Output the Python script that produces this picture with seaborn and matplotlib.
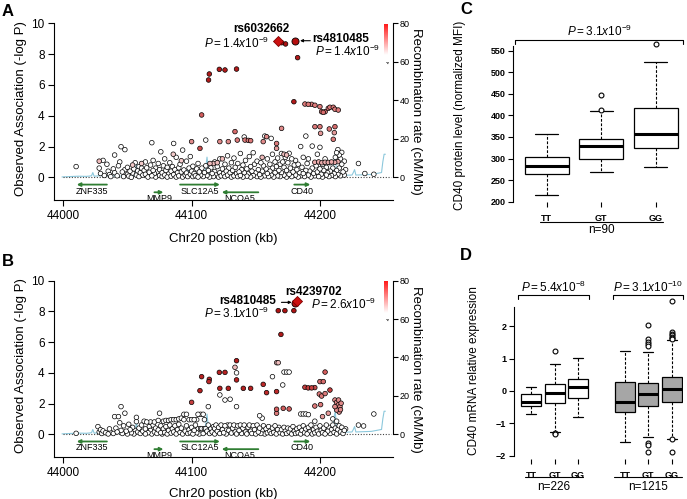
import matplotlib
matplotlib.use("Agg")
import matplotlib.pyplot as plt
from matplotlib.colors import LinearSegmentedColormap
import numpy as np
import pandas as pd
import seaborn as sns

sns.set_theme(style="ticks", rc={
    "axes.linewidth": 0.8, "xtick.major.width": 0.8, "ytick.major.width": 0.8,
    "axes.edgecolor": "black", "text.color": "black", "axes.labelcolor": "black",
    "xtick.color": "black", "ytick.color": "black",
})
plt.rcParams["font.family"] = ["Liberation Sans", "DejaVu Sans"]
plt.rcParams["mathtext.fontset"] = "custom"
plt.rcParams["mathtext.it"] = "Liberation Sans:italic"
plt.rcParams["mathtext.rm"] = "Liberation Sans"
plt.rcParams["mathtext.default"] = "it"

# ---------------- data: panel A (kb, -log P) ----------------
A_WHITE = [
    (44010, 0.70), (44028, 0.60), (44029, 0.25), (44031, 1.10), (44032, 0.12), (44034, 0.85), (44035, 0.40),
    (44036, 0.18), (44037, 0.05), (44039, 0.55), (44040, 1.45), (44040, 0.30), (44042, 0.10), (44043, 0.75),
    (44044, 1.00), (44045, 1.99), (44046, 0.35), (44047, 0.05), (44048, 1.80), (44048, 0.50), (44050, 0.20),
    (44050, 0.65), (44051, 0.08), (44052, 0.40), (44053, 0.00), (44054, 0.28), (44055, 0.55), (44056, 0.95),
    (44057, 0.15), (44058, 0.42), (44059, 0.70), (44059, 0.05), (44060, 0.30),
    (44061, 0.60), (44062, 0.15), (44063, 0.45), (44064, 1.00), (44064, 0.20), (44065, 0.62), (44066, 0.02),
    (44067, 0.33), (44068, 0.80), (44069, 2.25), (44069, 0.10), (44070, 0.45), (44070, 1.10), (44071, 0.25),
    (44072, 0.60), (44072, 0.02), (44073, 0.35), (44074, 0.90), (44075, 0.12), (44075, 0.50), (44076, 1.66),
    (44077, 0.05), (44077, 0.30), (44078, 0.75), (44079, 1.20), (44079, 0.15), (44080, 0.45), (44081, 0.02),
    (44081, 0.65), (44082, 0.25), (44083, 0.95), (44084, 0.08), (44084, 0.40), (44085, 0.70), (44086, 2.20),
    (44086, 0.18), (44087, 0.50), (44088, 0.02), (44088, 1.30), (44089, 0.30), (44090, 0.62), (44090, 0.10),
    (44091, 0.85), (44092, 0.35), (44093, 1.77), (44093, 0.02), (44094, 0.48), (44095, 0.15), (44096, 1.05),
    (44096, 0.28), (44097, 0.05), (44098, 0.60), (44099, 0.20), (44099, 1.35),
    (44100, 0.40), (44101, 0.05), (44101, 0.72), (44102, 0.25), (44103, 0.10), (44104, 0.55), (44105, 0.02),
    (44105, 0.90), (44106, 0.35), (44107, 0.15), (44108, 0.60), (44109, 0.05), (44110, 0.30), (44111, 2.42),
    (44111, 0.75), (44112, 0.12), (44113, 0.45), (44114, 0.02), (44115, 0.62), (44116, 0.25), (44117, 0.05),
    (44118, 1.00), (44118, 0.38), (44119, 0.15), (44120, 0.70), (44121, 0.02), (44122, 0.30), (44122, 1.20),
    (44123, 0.10), (44124, 0.55), (44125, 0.25), (44126, 0.85), (44126, 0.05), (44127, 0.40), (44128, 1.40),
    (44128, 0.15), (44129, 0.60), (44130, 0.30), (44131, 0.02), (44131, 0.95), (44132, 0.45), (44133, 1.25),
    (44133, 0.10), (44134, 0.65), (44135, 0.25), (44136, 0.05), (44136, 0.90), (44137, 0.35), (44138, 1.55),
    (44138, 0.12), (44139, 0.50), (44140, 0.02), (44140, 0.80),
    (44141, 2.62), (44141, 0.30), (44142, 1.10), (44143, 0.08), (44143, 0.55), (44144, 0.22), (44145, 1.35),
    (44146, 0.02), (44146, 0.70), (44147, 0.40), (44148, 1.60), (44148, 0.12), (44149, 0.85), (44150, 0.30),
    (44151, 0.05), (44151, 1.05), (44152, 0.50), (44153, 0.18), (44154, 0.95), (44154, 0.02), (44155, 0.40),
    (44156, 0.75), (44157, 2.68), (44157, 0.10), (44158, 0.55), (44159, 1.20), (44159, 0.25), (44160, 0.05),
    (44161, 0.85), (44161, 0.40), (44162, 2.53), (44162, 0.15), (44163, 1.50), (44163, 0.60), (44164, 0.02),
    (44165, 1.00), (44165, 0.30), (44166, 0.70), (44167, 0.10), (44167, 1.25), (44168, 0.45), (44169, 0.85),
    (44169, 0.05), (44170, 1.55), (44170, 0.30), (44171, 1.00), (44172, 0.15), (44172, 0.65), (44173, 1.30),
    (44174, 0.02), (44174, 0.45), (44175, 0.95), (44176, 1.56), (44176, 0.20), (44177, 0.60), (44178, 1.20),
    (44178, 0.05), (44179, 0.35), (44180, 0.80),
    (44181, 1.10), (44181, 0.15), (44182, 0.50), (44183, 0.02), (44183, 0.85), (44184, 0.30), (44185, 2.00),
    (44185, 0.10), (44186, 0.65), (44187, 1.30), (44187, 0.25), (44188, 0.05), (44189, 2.68), (44189, 0.45),
    (44190, 0.90), (44191, 0.15), (44191, 1.20), (44192, 0.40), (44193, 0.02), (44194, 2.03), (44194, 0.60),
    (44195, 0.25), (44196, 0.10), (44197, 0.75), (44198, 1.50), (44198, 0.35), (44199, 0.05), (44200, 1.95),
    (44200, 0.55), (44201, 0.20), (44202, 0.85), (44202, 0.02), (44203, 0.45), (44204, 1.20), (44205, 0.15),
    (44205, 0.65), (44206, 0.30), (44207, 0.05), (44208, 0.95), (44208, 0.40), (44209, 0.12), (44210, 0.60),
    (44211, 0.25), (44212, 1.30), (44212, 0.05), (44213, 0.45), (44213, 1.60), (44214, 0.20), (44214, 1.80),
    (44215, 1.45), (44215, 0.60), (44216, 1.20), (44216, 0.10), (44217, 0.85), (44217, 1.62), (44218, 0.35),
    (44219, 1.05), (44219, 0.15), (44220, 0.50), (44230, 0.90), (44235, 0.25), (44242, 0.20),
]
# (kb, -log P, r2)
A_LD = [
    (44170.1, 8.74, 0.95), (44173.2, 8.66, 0.95), (44182.6, 7.77, 0.9),
    (44113.8, 6.71, 0.9), (44113.2, 6.32, 0.9), (44121.6, 7.01, 0.9), (44126.0, 6.97, 0.9), (44135.0, 7.03, 0.9),
    (44107.8, 4.05, 0.6), (44179.7, 4.91, 0.9),
    (44188.3, 4.76, 0.5), (44190.9, 4.74, 0.5), (44193.5, 4.74, 0.5), (44196.1, 4.68, 0.5), (44200.0, 4.59, 0.5),
    (44201.3, 4.26, 0.55), (44202.6, 4.22, 0.55), (44204.0, 4.26, 0.5), (44206.5, 4.48, 0.5), (44207.8, 4.55, 0.5),
    (44210.4, 4.55, 0.5), (44211.7, 4.42, 0.5), (44214.3, 4.37, 0.5),
    (44196.1, 3.29, 0.5), (44200.0, 3.29, 0.5), (44207.3, 3.14, 0.5), (44211.7, 3.29, 0.55), (44200.5, 2.86, 0.4),
    (44211.2, 2.90, 0.4), (44210.4, 2.47, 0.5),
    (44196.0, 0.98, 0.35), (44199.0, 1.00, 0.35), (44201.5, 0.95, 0.35), (44204.0, 0.98, 0.35),
    (44206.5, 0.97, 0.35), (44209.0, 1.00, 0.35), (44211.5, 0.97, 0.35), (44214.0, 1.02, 0.35),
    (44106.5, 1.88, 0.65), (44100.0, 2.32, 0.45), (44122.0, 2.32, 0.45), (44128.6, 2.32, 0.45), (44133.8, 2.97, 0.55),
    (44135.6, 2.42, 0.5), (44141.6, 2.42, 0.5), (44144.2, 2.40, 0.5), (44146.0, 2.38, 0.5), (44155.8, 2.32, 0.45),
    (44158.4, 2.64, 0.45), (44170.1, 3.18, 0.45), (44166.2, 2.20, 0.5), (44166.2, 1.88, 0.4),
    (44028.0, 1.05, 0.3), (44054.0, 0.80, 0.25), (44061.0, 0.90, 0.25), (44085.7, 1.50, 0.25), (44092.0, 1.08, 0.25),
    (44114.3, 0.90, 0.3), (44117.0, 0.90, 0.3), (44120.0, 0.95, 0.3), (44124.0, 1.20, 0.3), (44155.0, 1.30, 0.3),
    (44172.0, 1.50, 0.3), (44174.0, 1.45, 0.3),
]
A_DIAMOND = (44167.5, 8.87)   # rs6032662
A_BIG = (44180.5, 8.87)       # rs4810485

# ---------------- data: panel B ----------------
B_WHITE = [
    (44010, 0.06), (44027, 0.50), (44028, 0.15), (44029, 0.30), (44030, 0.05), (44031, 0.22), (44033, 0.10),
    (44035, 0.02), (44036, 0.35), (44037, 0.12), (44039, 0.05), (44040, 1.15), (44041, 0.40), (44042, 0.15),
    (44043, 1.15), (44044, 0.75), (44045, 0.25), (44045, 1.80), (44046, 0.05), (44047, 0.55), (44048, 1.37),
    (44049, 0.20), (44050, 0.02), (44051, 0.65), (44052, 0.30), (44053, 0.10), (44054, 0.45), (44055, 0.02),
    (44056, 0.25), (44057, 1.10), (44057, 0.82), (44058, 0.15), (44059, 0.40), (44060, 0.05), (44061, 0.60),
    (44062, 0.20), (44063, 0.85), (44064, 0.02), (44064, 0.35), (44065, 0.80), (44066, 0.10), (44067, 0.50),
    (44068, 0.80), (44068, 0.25), (44069, 0.02), (44070, 0.60), (44071, 0.80), (44071, 0.15), (44072, 0.40),
    (44073, 0.05), (44074, 0.90), (44074, 0.28), (44075, 1.37), (44076, 0.10), (44076, 0.55), (44077, 0.02),
    (44078, 0.85), (44078, 0.35), (44079, 0.12), (44080, 0.90), (44080, 0.50), (44081, 0.02), (44082, 0.90),
    (44082, 0.25), (44083, 0.60), (44084, 0.95), (44084, 0.08), (44085, 0.35), (44086, 0.95), (44086, 0.15),
    (44087, 0.55), (44088, 0.95), (44088, 0.02), (44089, 0.30), (44090, 1.00), (44090, 0.65), (44091, 0.12),
    (44092, 1.05), (44092, 0.40), (44093, 0.02), (44094, 1.30), (44094, 0.95), (44095, 0.20), (44096, 1.30),
    (44096, 0.55), (44097, 0.05), (44098, 0.95), (44098, 0.30), (44099, 0.10), (44100, 0.95), (44100, 0.45),
    (44101, 0.02), (44102, 0.95), (44102, 0.25), (44103, 0.60), (44104, 0.95), (44104, 0.10), (44105, 1.30),
    (44105, 0.35), (44106, 0.02), (44107, 1.30), (44107, 0.37), (44108, 0.37), (44109, 1.30), (44109, 0.05),
    (44110, 0.37), (44110, 0.95), (44111, 0.37), (44112, 0.20), (44113, 1.80), (44113, 0.60), (44114, 0.05),
    (44115, 0.37), (44116, 0.15), (44117, 0.50), (44118, 0.02), (44118, 0.37), (44119, 0.60), (44120, 0.20),
    (44121, 0.45), (44122, 2.56), (44122, 0.05), (44123, 0.60), (44124, 0.30), (44125, 0.10), (44126, 2.23),
    (44126, 0.55), (44127, 0.02), (44128, 0.60), (44129, 0.25), (44130, 2.28), (44130, 0.60), (44131, 0.08),
    (44132, 0.40), (44133, 0.60), (44134, 0.15), (44135, 1.80), (44135, 4.00), (44135, 0.02), (44136, 0.55),
    (44137, 0.25), (44138, 0.60), (44139, 0.05), (44140, 0.40), (44141, 0.60), (44142, 0.15), (44143, 0.02),
    (44144, 0.45), (44145, 0.60), (44146, 0.20), (44147, 0.05), (44148, 0.55), (44149, 0.30), (44150, 0.02),
    (44151, 0.60), (44152, 0.15), (44153, 1.21), (44153, 0.40), (44154, 0.05), (44155, 1.05), (44155, 0.25),
    (44156, 0.55), (44157, 0.02), (44158, 0.35), (44159, 0.10), (44160, 0.50), (44161, 0.20), (44162, 0.05),
    (44163, 3.75), (44163, 0.40), (44164, 0.12), (44165, 0.55), (44166, 0.02), (44167, 0.30), (44168, 0.45),
    (44169, 0.10), (44170, 0.30), (44171, 3.21), (44171, 0.02), (44172, 4.05), (44172, 0.45), (44173, 0.20),
    (44174, 4.05), (44174, 0.05), (44176, 4.05), (44175, 0.40), (44176, 0.15), (44177, 0.35), (44178, 0.02),
    (44179, 0.50), (44180, 0.20), (44181, 0.05), (44182, 0.35), (44183, 0.10), (44184, 0.45), (44185, 1.32),
    (44185, 0.02), (44186, 0.25), (44187, 1.32), (44187, 0.55), (44188, 0.10), (44189, 1.32), (44189, 0.35),
    (44190, 0.02), (44191, 1.28), (44191, 0.45), (44192, 0.15), (44193, 0.60), (44194, 0.02), (44195, 0.30),
    (44196, 0.85), (44196, 0.10), (44197, 0.45), (44198, 0.20), (44199, 0.02), (44200, 0.55), (44201, 0.25),
    (44202, 0.10), (44203, 0.40), (44204, 0.02), (44205, 0.60), (44206, 0.20), (44207, 0.45), (44208, 0.05),
    (44209, 0.30), (44210, 1.00), (44210, 0.60), (44211, 0.12), (44212, 0.40), (44213, 0.85), (44213, 0.02),
    (44214, 0.30), (44215, 0.55), (44216, 0.15), (44217, 0.45), (44218, 0.05), (44219, 0.25), (44220, 0.35),
    (44230, 0.60), (44234, 0.54), (44242, 1.32),
]
B_LD = [
    (44167.5, 8.05, 0.95), (44172.7, 8.05, 0.95), (44179.7, 8.05, 0.95), (44169.6, 6.50, 0.9),
    (44135.0, 4.79, 0.9), (44107.8, 3.75, 0.85), (44113.8, 3.58, 0.8), (44113.5, 3.43, 0.8),
    (44121.6, 4.03, 0.85), (44126.0, 4.03, 0.85), (44106.5, 2.84, 0.85), (44122.0, 2.99, 0.85),
    (44128.6, 2.99, 0.85), (44135.0, 3.54, 0.85), (44140.3, 2.99, 0.85), (44146.0, 2.99, 0.85),
    (44155.8, 3.25, 0.8), (44158.4, 2.71, 0.8), (44166.2, 2.78, 0.8), (44100.0, 2.08, 0.7),
    (44166.3, 4.66, 0.3), (44167.5, 4.66, 0.3), (44133.8, 4.36, 0.3), (44166.2, 1.63, 0.6),
    (44166.2, 1.37, 0.5), (44171.4, 1.69, 0.6), (44176.0, 1.65, 0.6),
    (44188.3, 3.06, 0.7), (44190.9, 3.02, 0.7), (44193.5, 3.02, 0.7), (44196.0, 3.04, 0.65),
    (44199.5, 2.62, 0.5), (44201.3, 2.49, 0.5), (44204.0, 2.65, 0.5), (44204.0, 4.05, 0.6),
    (44200.0, 3.43, 0.55), (44202.6, 3.43, 0.55), (44207.8, 2.88, 0.7), (44196.0, 1.84, 0.5),
    (44200.5, 1.93, 0.5), (44202.0, 1.15, 0.4), (44206.5, 1.37, 0.4),
    (44211.7, 2.23, 0.45), (44213.0, 2.08, 0.45), (44214.3, 1.91, 0.45), (44215.6, 1.80, 0.45),
    (44213.0, 1.58, 0.45), (44215.0, 1.45, 0.45), (44216.5, 2.02, 0.45), (44211.7, 1.80, 0.45),
    (44214.5, 2.23, 0.45), (44216.0, 1.60, 0.45),
]
B_DIAMOND = (44182.5, 8.65)   # rs4239702
B_BIG = (44180.5, 8.55)       # rs4810485

# recombination rate (cM/Mb)
RECOMB_KB = [43999, 44005, 44012, 44018, 44022, 44023, 44024, 44030, 44040, 44050, 44056, 44057, 44058,
             44070, 44085, 44096, 44097, 44098, 44110, 44111, 44112, 44113, 44114, 44130, 44150, 44170,
             44190, 44205, 44210, 44211, 44212, 44213, 44215, 44225, 44226, 44227, 44228, 44240, 44248,
             44249, 44250, 44251]
RECOMB_RATE = [0.2, 0.4, 0.6, 0.5, 0.8, 2.5, 0.6, 0.9, 0.7, 0.6, 0.8, 7.0, 0.8,
               0.5, 0.6, 0.7, 5.0, 0.7, 1.0, 5.0, 10.5, 4.0, 1.0, 0.6, 0.5, 0.4,
               0.6, 0.8, 1.5, 9.0, 12.0, 1.5, 1.0, 1.2, 2.5, 4.0, 1.2, 1.5, 2.5,
               8.0, 12.0, 12.0]

# genes: name, start, end, row, direction
GENES = [("ZNF335", 44010.5, 44034, 0, -1), ("MMP9", 44071, 44078, 1, 1),
         ("SLC12A5", 44091, 44122, 0, 1), ("NCOA5", 44123.5, 44152, 1, -1),
         ("CD40", 44180, 44192.5, 0, 1)]

# ---------------- data: panel C ----------------
C_LABELS = ["TT", "GT", "GG"]
C_Q1 = [265, 300, 324]
C_MED = [282, 328, 357]
C_Q3 = [304, 345, 418]
C_LO = [215, 269, 280]
C_HI = [356, 410, 523]
C_FLIERS = [[], [412, 446], [565]]

# ---------------- data: panel D ----------------
D_LABELS = ["TT", "GT", "GG", "TT", "GT", "GG"]
D_Q1 = [-0.46, -0.38, -0.23, -0.64, -0.46, -0.33]
D_MED = [-0.35, -0.05, 0.12, -0.33, -0.10, 0.07]
D_Q3 = [-0.10, 0.23, 0.37, 0.27, 0.24, 0.44]
D_LO = [-0.72, -1.26, -0.81, -1.59, -1.41, -1.49]
D_HI = [0.13, 0.83, 1.01, 1.25, 1.22, 1.58]
D_FLIERS = [[], [1.24, -1.31, -1.34], [], [],
            [2.04, 1.60, 1.53, 1.46, 1.38, -1.60, -1.68, -1.88],
            [2.80, 1.82, 1.77, 1.72, 1.67, 1.64, 1.60, -1.49, -1.88]]

# ---------------- layout ----------------
W, H = 687, 499
fig = plt.figure(figsize=(W / 100, H / 100), dpi=100)


def add_ax(l, t, r, b):
    return fig.add_axes([l / W, 1 - b / H, (r - l) / W, (b - t) / H])


ld_cmap = LinearSegmentedColormap.from_list(
    "ld", ["#ffffff", "#f3caca", "#dc7a7a", "#c23030", "#a80c0c"])
bar_cmap = LinearSegmentedColormap.from_list("bar", ["#ffffff", "#ff1a1a"])
GREEN = "#2f7d32"
BLUE = "#8cc8dc"


def pval(s):
    return r"$P{=}" + s + "$"


def locus(ax, white, ld, diamond, big, ybot):
    ax2 = ax.twinx()
    sns.lineplot(x=RECOMB_KB, y=RECOMB_RATE, ax=ax2, color=BLUE, lw=0.8,
                 estimator=None, sort=False)
    ax2.set_ylim(ybot * 8, 80)
    ax2.set_yticks([0, 20, 40, 60, 80])
    ax2.tick_params(axis="y", labelsize=6.5, length=3.5, pad=1.5)
    for s in ["left", "top", "bottom"]:
        ax2.spines[s].set_visible(False)
    ax2.spines["right"].set_bounds(0, 80)
    ax2.set_ylabel("Recombination rate (cM/Mb)", rotation=270, fontsize=9.5)
    ax2.yaxis.set_label_coords(1.088, 0.5)
    ax.set_zorder(ax2.get_zorder() + 1)
    ax.patch.set_visible(False)

    ax.hlines(0, 44000, 44255, colors="#444444", linestyles=(0, (1, 1.5)), lw=0.8)

    df = pd.DataFrame(white, columns=["kb", "logp"]).assign(r2=0.0)
    df = pd.concat([df, pd.DataFrame(ld, columns=["kb", "logp", "r2"])]).sort_values("r2")
    sns.scatterplot(data=df, x="kb", y="logp", hue="r2", palette=ld_cmap, hue_norm=(0, 1),
                    s=11, edgecolor="black", linewidth=0.5, legend=False, ax=ax, zorder=3)
    sns.scatterplot(x=[big[0]], y=[big[1]], color="#b50f0f", s=26, edgecolor="black",
                    linewidth=0.6, ax=ax, zorder=4)
    sns.scatterplot(x=[diamond[0]], y=[diamond[1]], marker="D", color="#cc1111", s=26,
                    edgecolor="#800000", linewidth=0.6, ax=ax, zorder=5)

    for name, x0, x1, row, d in GENES:
        y = -0.47 if row == 0 else -0.97
        a, b = (x1, x0) if d < 0 else (x0, x1)
        ax.annotate("", xy=(b, y), xytext=(a, y),
                    arrowprops=dict(arrowstyle="-|>", color=GREEN, lw=1.3, mutation_scale=5,
                                    shrinkA=0, shrinkB=0))
        ax.text((x0 + x1) / 2, y - 0.42, name, ha="center", va="center", fontsize=6.5)

    ax.set_xlim(43993, 44256.7)
    ax.set_ylim(ybot, 10)
    ax.set_xticks([44000, 44100, 44200])
    ax.set_yticks([0, 2, 4, 6, 8, 10])
    ax.tick_params(labelsize=8.5, length=4.5, pad=2.5)
    ax.spines["top"].set_visible(False)
    ax.spines["right"].set_visible(False)
    ax.set_xlabel("Chr20 postion (kb)", fontsize=9.5)
    ax.set_ylabel("Observed Association (-log P)", fontsize=9.5)
    ax.yaxis.set_label_coords(-0.082, 0.52)
    return ax2


# Panel A
ax_a = add_ax(54.3, 23.3, 392.7, 200)
locus(ax_a, A_WHITE, A_LD, A_DIAMOND, A_BIG, -1.47)
ax_a.xaxis.set_label_coords(0.5, -0.187)
ax_a.text(44154.6, 9.62, "rs6032662", ha="center", va="center", fontsize=8.5, fontweight="bold")
ax_a.text(44160, 8.72, pval("1.4x10^{-9}"), ha="right", va="center", fontsize=8.5)
ax_a.annotate("", xy=(44184.5, 8.87), xytext=(44192.5, 8.87),
              arrowprops=dict(arrowstyle="-|>", color="black", lw=0.8, mutation_scale=4,
                              shrinkA=0, shrinkB=0))
ax_a.text(44194.2, 8.96, "rs4810485", ha="left", va="center", fontsize=8.5, fontweight="bold")
ax_a.text(44247, 8.16, pval("1.4x10^{-9}"), ha="right", va="center", fontsize=8.5)
cax = add_ax(384.3, 24, 388.3, 55)
cax.imshow(np.linspace(1, 0, 64)[:, None], cmap=bar_cmap, aspect="auto")
cax.axis("off")
fig.text(386.3 / W, 1 - 63 / H, "r²", fontsize=3.5, rotation=270, ha="center", va="center")

# Panel B
ax_b = add_ax(54.3, 280.7, 392.7, 457.3)
locus(ax_b, B_WHITE, B_LD, B_DIAMOND, B_BIG, -1.5)
ax_b.xaxis.set_label_coords(0.5, -0.174)
ax_b.text(44194.8, 9.28, "rs4239702", ha="center", va="center", fontsize=8.5, fontweight="bold")
ax_b.text(44166.2, 8.68, "rs4810485", ha="right", va="center", fontsize=8.5, fontweight="bold")
ax_b.annotate("", xy=(44178, 8.59), xytext=(44170, 8.59),
              arrowprops=dict(arrowstyle="-|>", color="black", lw=0.8, mutation_scale=4,
                              shrinkA=0, shrinkB=0))
ax_b.text(44160, 7.87, pval("3.1x10^{-9}"), ha="right", va="center", fontsize=8.5)
ax_b.text(44192.7, 8.48, pval("2.6x10^{-9}"), ha="left", va="center", fontsize=8.5)
cax = add_ax(384.3, 280.7, 388.3, 312.7)
cax.imshow(np.linspace(1, 0, 64)[:, None], cmap=bar_cmap, aspect="auto")
cax.axis("off")
fig.text(386.3 / W, 1 - 320 / H, "r²", fontsize=3.5, rotation=270, ha="center", va="center")


def boxes(ax, pos, q1, med, q3, lo, hi, fliers, fills, width, capw):
    stats = [dict(q1=a, med=m, q3=c, whislo=l, whishi=h, fliers=f)
             for a, m, c, l, h, f in zip(q1, med, q3, lo, hi, fliers)]
    art = ax.bxp(stats, positions=pos, widths=width, patch_artist=True, capwidths=capw,
                 manage_ticks=False,
                 boxprops=dict(edgecolor="black", lw=0.9),
                 medianprops=dict(color="black", lw=2.2, solid_capstyle="butt"),
                 whiskerprops=dict(color="black", lw=0.8, linestyle=(0, (2.5, 1.5))),
                 capprops=dict(color="black", lw=0.9),
                 flierprops=dict(marker="o", markerfacecolor="white", markeredgecolor="black",
                                 markersize=3.5, markeredgewidth=0.8))
    for patch, fc in zip(art["boxes"], fills):
        patch.set_facecolor(fc)


def bracket(ax, x0, x1, y, dy, label, ylab):
    ax.plot([x0, x0, x1, x1], [y - dy, y, y, y - dy], color="black", lw=0.8, clip_on=False)
    ax.text((x0 + x1) / 2, ylab, label, ha="center", va="center", fontsize=8.5, clip_on=False)


def underline(ax, x0, x1, y, ylab, label):
    tr = ax.get_xaxis_transform()
    ax.plot([x0, x1], [y, y], color="black", lw=0.8, transform=tr, clip_on=False)
    ax.text((x0 + x1) / 2, ylab, label, ha="center", va="center", fontsize=8.5, transform=tr)


# Panel C
C_POS = [1, 2, 3]
ax_c = add_ax(513.3, 38, 683, 201.7)
boxes(ax_c, C_POS, C_Q1, C_MED, C_Q3, C_LO, C_HI, C_FLIERS, ["white"] * 3, 0.81, 0.43)
ax_c.set_xlim(0.387, 3.5)
ax_c.set_ylim(200, 579)
ax_c.set_yticks([200, 250, 300, 350, 400, 450, 500, 550])
ax_c.set_xticks(C_POS, C_LABELS)
ax_c.tick_params(axis="both", labelsize=6.5, length=3.5, pad=2)
ax_c.tick_params(axis="x", pad=5)
for t in ax_c.get_xticklabels() + ax_c.get_yticklabels():
    t.set_fontweight("bold")
for s in ["top", "right", "bottom"]:
    ax_c.spines[s].set_visible(False)
ax_c.spines["left"].set_bounds(200, 560)
ax_c.set_ylabel("CD40 protein level (normalized MFI)", fontsize=8.5)
ax_c.yaxis.set_label_coords(-0.279, 0.53)
bracket(ax_c, 0.42, 3.5, 575, 9, pval("3.1x10^{-9}"), 594)
underline(ax_c, 0.88, 3.13, -0.122, -0.173, "n=90")

# Panel D
D_POS = [1, 2, 3, 5, 6, 7]
ax_d = add_ax(514, 294.1, 683, 458.8)
boxes(ax_d, D_POS, D_Q1, D_MED, D_Q3, D_LO, D_HI, D_FLIERS,
      ["white"] * 3 + ["#a6a6a6"] * 3, 0.85, 0.42)
ax_d.set_xlim(0.266, 7.48)
ax_d.set_ylim(-2.1, 3.0)
ax_d.set_yticks([-2, -1, 0, 1, 2])
ax_d.set_xticks(D_POS, D_LABELS)
ax_d.tick_params(axis="both", labelsize=6.5, length=3.5, pad=2)
ax_d.tick_params(axis="x", pad=5)
for t in ax_d.get_xticklabels() + ax_d.get_yticklabels():
    t.set_fontweight("bold")
for s in ["top", "right", "bottom"]:
    ax_d.spines[s].set_visible(False)
ax_d.spines["left"].set_bounds(-2, 2.6)
ax_d.set_ylabel("CD40 mRNA relative expression", fontsize=8.5)
ax_d.yaxis.set_label_coords(-0.201, 0.534)
bracket(ax_d, 0.45, 3.48, 2.97, 0.12, pval("5.4x10^{-8}"), 3.22)
bracket(ax_d, 4.48, 7.47, 2.97, 0.12, pval("3.1x10^{-10}"), 3.22)
underline(ax_d, 0.735, 3.2, -0.109, -0.169, "n=226")
underline(ax_d, 4.53, 7.45, -0.109, -0.169, "n=1215")

# panel letters
for lab, x, y in [("A", 8, 11), ("B", 8, 262), ("C", 466, 9), ("D", 466, 256)]:
    fig.text(x / W, 1 - y / H, lab, fontsize=12, fontweight="bold", ha="center", va="center")

fig.savefig("out.png", dpi=100)
